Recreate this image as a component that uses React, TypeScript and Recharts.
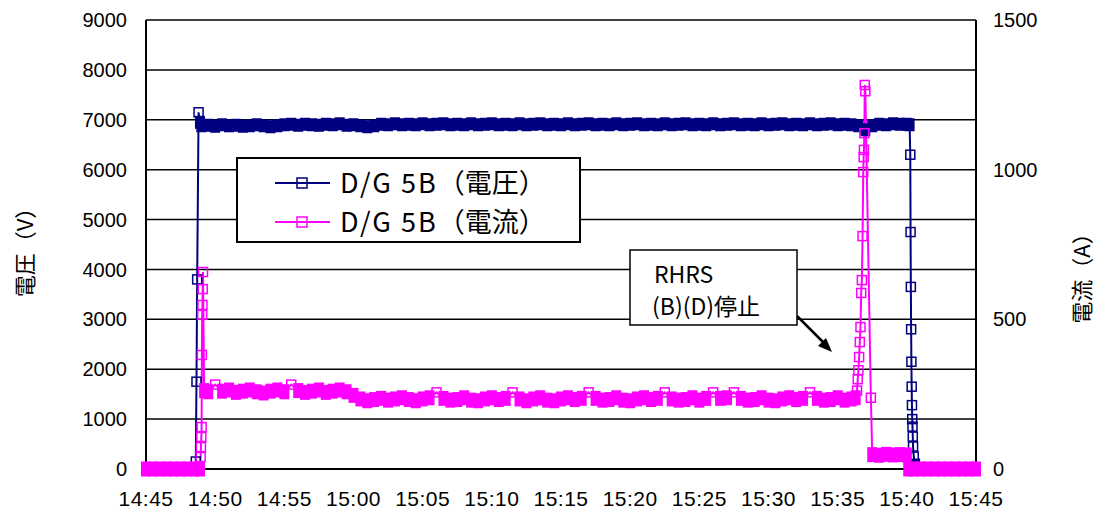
import { LineChart, Line, XAxis, YAxis, CartesianGrid } from 'recharts';

// minutes after 14:45
const voltTime = [
  0, 0.5, 1, 1.5, 2, 2.5, 3, 3.5, 3.6, 3.65, 3.7, 3.8, 3.9,
  4, 4.5, 5, 5.5, 6, 6.5, 7, 7.5, 8, 8.5, 9, 9.5, 10, 10.5, 11, 11.5, 12, 12.5, 13, 13.5, 14, 14.5,
  15, 15.5, 16, 16.5, 17, 17.5, 18, 18.5, 19, 19.5, 20, 20.5, 21, 21.5, 22, 22.5, 23, 23.5, 24, 24.5,
  25, 25.5, 26, 26.5, 27, 27.5, 28, 28.5, 29, 29.5, 30, 30.5, 31, 31.5, 32, 32.5, 33, 33.5, 34, 34.5,
  35, 35.5, 36, 36.5, 37, 37.5, 38, 38.5, 39, 39.5, 40, 40.5, 41, 41.5, 42, 42.5, 43, 43.5, 44, 44.5,
  45, 45.5, 46, 46.5, 47, 47.5, 48, 48.5, 49, 49.5, 50, 50.5, 51, 51.5, 52, 52.5, 53, 53.5, 54, 54.5,
  55, 55.2, 55.25, 55.27, 55.29, 55.31, 55.33, 55.35, 55.37, 55.39, 55.41, 55.43, 55.45, 55.5, 55.6,
  56, 56.5, 57, 57.5, 58, 58.5, 59, 59.5, 60,
];
const voltage = [
  0, 0, 0, 0, 0, 0, 0, 0, 150, 1750, 3800, 7150, 6950,
  6880, 6890, 6870, 6900, 6880, 6890, 6870, 6880, 6900, 6880, 6860, 6880, 6900, 6910, 6890, 6910, 6900, 6890, 6910, 6900, 6920, 6890,
  6900, 6880, 6860, 6880, 6910, 6900, 6920, 6900, 6910, 6900, 6920, 6900, 6910, 6920, 6900, 6910, 6900, 6920, 6900, 6910,
  6920, 6900, 6910, 6900, 6920, 6900, 6910, 6920, 6900, 6910, 6900, 6920, 6900, 6910, 6920, 6900, 6910, 6900, 6920, 6900,
  6910, 6920, 6900, 6910, 6900, 6920, 6900, 6910, 6920, 6900, 6910, 6900, 6920, 6900, 6910, 6920, 6900, 6910, 6900, 6920,
  6900, 6910, 6920, 6900, 6910, 6900, 6920, 6900, 6910, 6920, 6900, 6910, 6900, 6880, 6800, 6880, 6910, 6900, 6920, 6910,
  6910, 6900, 6300, 4750, 3650, 2800, 2150, 1650, 1280, 1000, 850, 650, 450, 250, 80,
  0, 0, 0, 0, 0, 0, 0, 0, 0,
];

const ampTime = [
  0, 0.5, 1, 1.5, 2, 2.5, 3, 3.5, 3.9, 3.95, 3.97, 4, 4.02, 4.04, 4.06, 4.08, 4.1, 4.12, 4.2,
  4.5, 5, 5.5, 6, 6.5, 7, 7.5, 8, 8.5, 9, 9.5, 10, 10.5, 11, 11.5, 12, 12.5, 13, 13.5, 14, 14.5,
  15, 15.5, 16, 16.5, 17, 17.5, 18, 18.5, 19, 19.5, 20, 20.5, 21, 21.5, 22, 22.5, 23, 23.5, 24, 24.5,
  25, 25.5, 26, 26.5, 27, 27.5, 28, 28.5, 29, 29.5, 30, 30.5, 31, 31.5, 32, 32.5, 33, 33.5, 34, 34.5,
  35, 35.5, 36, 36.5, 37, 37.5, 38, 38.5, 39, 39.5, 40, 40.5, 41, 41.5, 42, 42.5, 43, 43.5, 44, 44.5,
  45, 45.5, 46, 46.5, 47, 47.5, 48, 48.5, 49, 49.5, 50, 50.5, 51, 51.3,
  51.4, 51.45, 51.5, 51.55, 51.6, 51.65, 51.7, 51.75, 51.8, 51.85, 51.88, 51.9, 51.93, 51.96, 52, 52.4,
  52.5, 53, 53.5, 54, 54.5, 55, 55.1, 55.5, 56, 56.5, 57, 57.5, 58, 58.5, 59, 59.5, 60,
];
const current = [
  0, 0, 0, 0, 0, 0, 0, 0, 0, 40, 73, 107, 140, 381, 515, 548, 601, 658, 262,
  258, 282, 260, 264, 256, 260, 264, 258, 254, 260, 264, 258, 282, 262, 256, 260, 264, 256, 260, 264, 258,
  246, 234, 228, 232, 236, 230, 234, 238, 232, 228, 234, 238, 256, 236, 230, 232, 238, 230, 228, 234,
  238, 232, 236, 256, 234, 228, 234, 238, 230, 228, 234, 238, 232, 236, 256, 236, 230, 232, 238, 230,
  228, 234, 238, 232, 236, 256, 234, 230, 232, 238, 230, 236, 256, 236, 238, 256, 236, 230, 232, 238,
  230, 228, 234, 238, 232, 236, 256, 236, 230, 232, 238, 230, 234, 238,
  262, 300, 330, 374, 424, 474, 588, 631, 778, 992, 1042, 1066, 1122, 1283, 1262, 238,
  48, 46, 49, 47, 48, 47, 0, 0, 0, 0, 0, 0, 0, 0, 0, 0, 0,
];

const timeTicks = [0, 5, 10, 15, 20, 25, 30, 35, 40, 45, 50, 55, 60];
const timeLabels = ['14:45', '14:50', '14:55', '15:00', '15:05', '15:10', '15:15', '15:20', '15:25', '15:30', '15:35', '15:40', '15:45'];
const voltTicks = [0, 1000, 2000, 3000, 4000, 5000, 6000, 7000, 8000, 9000];
const ampTicks = [0, 500, 1000, 1500];
const seriesLatin = ['D/G 5B', 'D/G 5B'];
const seriesKana = ['（電圧）', '（電流）'];
const colors = ['#000080', '#ff00ff'];

const voltData = voltTime.map((t, i) => ({ t, v: voltage[i] }));
const ampData = ampTime.map((t, i) => ({ t, a: current[i] }));

const NUM_FONT = '"Liberation Sans", Arial, sans-serif';
const JP_FONT = '"Noto Sans CJK JP", sans-serif';

// the logger wrote many samples per minute; in a steady run the overlapping
// squares merge into a solid band, so steady points are drawn as a filled block
const makeDot = (values: number[], color: string, gap: number, band: number, tag: string) => (p: any) => {
  const { cx, cy, index } = p;
  if (cx == null || cy == null) return <g key={`${tag}-${index}`} />;
  const v = values[index];
  const steady =
    (index > 0 && Math.abs(v - values[index - 1]) <= gap) ||
    (index < values.length - 1 && Math.abs(v - values[index + 1]) <= gap);
  if (steady) {
    return <rect key={`${tag}-${index}`} x={cx - 5} y={cy - band / 2} width={10} height={band} fill={color} />;
  }
  return (
    <rect
      key={`${tag}-${index}`}
      x={cx - 4.5}
      y={cy - 4.5}
      width={9}
      height={9}
      stroke={color}
      strokeWidth={1.5}
      fill="none"
    />
  );
};

const LegendRow = ({ y, i }: { y: number; i: number }) => (
  <g>
    <line x1={275} x2={330} y1={y} y2={y} stroke={colors[i]} strokeWidth={2} />
    <rect x={297} y={y - 5} width={10} height={10} fill="none" stroke={colors[i]} strokeWidth={1.5} />
    <text x={340} y={y + 10} fontSize={27} fontFamily={JP_FONT} fill="#000">
      <tspan letterSpacing={2}>{seriesLatin[i]}</tspan>
      <tspan>{seriesKana[i]}</tspan>
    </text>
  </g>
);

const App = () => {
  return (
    <div style={{ position: 'absolute', left: 0, top: 0, width: 1097, height: 512, background: '#fff' }}>
      <LineChart width={1097} height={512} margin={{ top: 20, right: 21, bottom: 0, left: 46 }}>
        <CartesianGrid yAxisId="left" vertical={false} stroke="#000" strokeWidth={1.5} />
        <XAxis
          type="number"
          dataKey="t"
          domain={[0, 60]}
          ticks={timeTicks}
          tickFormatter={(val: number) => timeLabels[timeTicks.indexOf(val)]}
          allowDuplicatedCategory={false}
          height={43}
          tickLine={false}
          tickMargin={16}
          axisLine={{ stroke: '#000', strokeWidth: 2 }}
          tick={{ fill: '#000', fontSize: 21, fontFamily: NUM_FONT, letterSpacing: 0.5 }}
        />
        <YAxis
          yAxisId="left"
          domain={[0, 9000]}
          ticks={voltTicks}
          width={100}
          tickLine={false}
          tickMargin={13}
          axisLine={{ stroke: '#000', strokeWidth: 2 }}
          tick={{ fill: '#000', fontSize: 20, fontFamily: NUM_FONT }}
        />
        <YAxis
          yAxisId="right"
          orientation="right"
          domain={[0, 1500]}
          ticks={ampTicks}
          width={100}
          tickLine={false}
          tickMargin={11}
          axisLine={{ stroke: '#000', strokeWidth: 2 }}
          tick={{ fill: '#000', fontSize: 20, fontFamily: NUM_FONT, textAnchor: 'start' }}
        />
        <Line
          yAxisId="left"
          data={voltData}
          dataKey="v"
          stroke={colors[0]}
          strokeWidth={2}
          dot={makeDot(voltage, colors[0], 100, 13, 'v')}
          isAnimationActive={false}
        />
        <Line
          yAxisId="right"
          data={ampData}
          dataKey="a"
          stroke={colors[1]}
          strokeWidth={2}
          dot={makeDot(current, colors[1], 15, 15, 'a')}
          isAnimationActive={false}
        />
      </LineChart>
      <svg
        width={1097}
        height={512}
        style={{ position: 'absolute', left: 0, top: 0, pointerEvents: 'none' }}
      >
        <text
          transform="translate(23,247) rotate(-90)"
          textAnchor="middle"
          dominantBaseline="central"
          fontSize={22}
          fontFamily={JP_FONT}
          fill="#000"
        >
          電圧（V）
        </text>
        <text
          transform="translate(1080,273) rotate(-90)"
          textAnchor="middle"
          dominantBaseline="central"
          fontSize={22}
          fontFamily={JP_FONT}
          fill="#000"
        >
          電流（A）
        </text>

        <rect x={237} y={158} width={343} height={84} fill="#fff" stroke="#000" strokeWidth={2} />
        <LegendRow y={183} i={0} />
        <LegendRow y={222} i={1} />

        <rect x={630} y={250} width={167} height={75} fill="#fff" stroke="#000" strokeWidth={1.5} />
        <text x={654} y={283} fontSize={23} fontFamily={JP_FONT} fill="#000">
          RHRS
        </text>
        <text x={652} y={315} fontSize={23} fontFamily={JP_FONT} fill="#000">
          (B)(D)停止
        </text>
        <line x1={797} y1={316} x2={824} y2={343} stroke="#000" strokeWidth={2.5} />
        <polygon points="832,352 818,346 826,338" fill="#000" />
      </svg>
    </div>
  );
};

export default App;
